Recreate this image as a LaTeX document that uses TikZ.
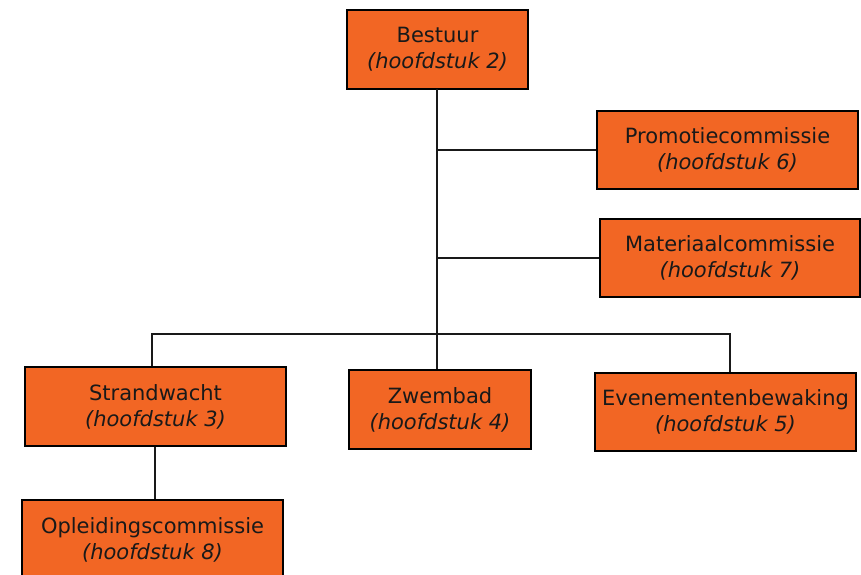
\documentclass[tikz,border=0pt]{standalone}
\usepackage{fontspec}
\setmainfont{DejaVu Sans}
\definecolor{boxorange}{RGB}{242,102,36}
\begin{document}
\begin{tikzpicture}[x=1pt,y=-1pt,
  orgbox/.style={draw=black, line width=2.4pt, fill=boxorange, inner sep=0pt,
    align=center, font=\fontsize{21}{26}\selectfont, text=black!90},
  conn/.style={draw=black!90, line width=2.4pt}]
\useasboundingbox (0,0) rectangle (861,574);
\node[orgbox, minimum width=181pt, minimum height=79pt] (best) at (437.5,49.5) {Bestuur\\\textit{(hoofdstuk 2)}};
\node[orgbox, minimum width=261pt, minimum height=78pt] (promo) at (727.5,150) {Promotiecommissie\\\textit{(hoofdstuk 6)}};
\node[orgbox, minimum width=260pt, minimum height=78pt] (mat) at (730,258) {Materiaalcommissie\\\textit{(hoofdstuk 7)}};
\node[orgbox, minimum width=261pt, minimum height=79pt] (strand) at (155.5,406.5) {Strandwacht\\\textit{(hoofdstuk 3)}};
\node[orgbox, minimum width=182pt, minimum height=79pt] (zwem) at (440,409.5) {Zwembad\\\textit{(hoofdstuk 4)}};
\node[orgbox, minimum width=261pt, minimum height=78pt] (even) at (725.5,412) {Evenementenbewaking\\\textit{(hoofdstuk 5)}};
\node[orgbox, minimum width=261pt, minimum height=79pt] (opl) at (152.5,539.5) {Opleidingscommissie\\\textit{(hoofdstuk 8)}};
\coordinate (trunk) at (437,89);
\coordinate (barL) at (152,334);
\coordinate (barR) at (730,334);
\coordinate (oplx) at (155,446);
\draw[conn] (trunk) -- (trunk |- zwem.north);
\draw[conn] (trunk |- promo.west) -- (promo.west);
\draw[conn] (trunk |- mat.west) -- (mat.west);
\draw[conn] (barL |- strand.north) -- (barL) -- (barR) -- (barR |- even.north);
\draw[conn] (oplx |- strand.south) -- (oplx |- opl.north);
\end{tikzpicture}
\end{document}
